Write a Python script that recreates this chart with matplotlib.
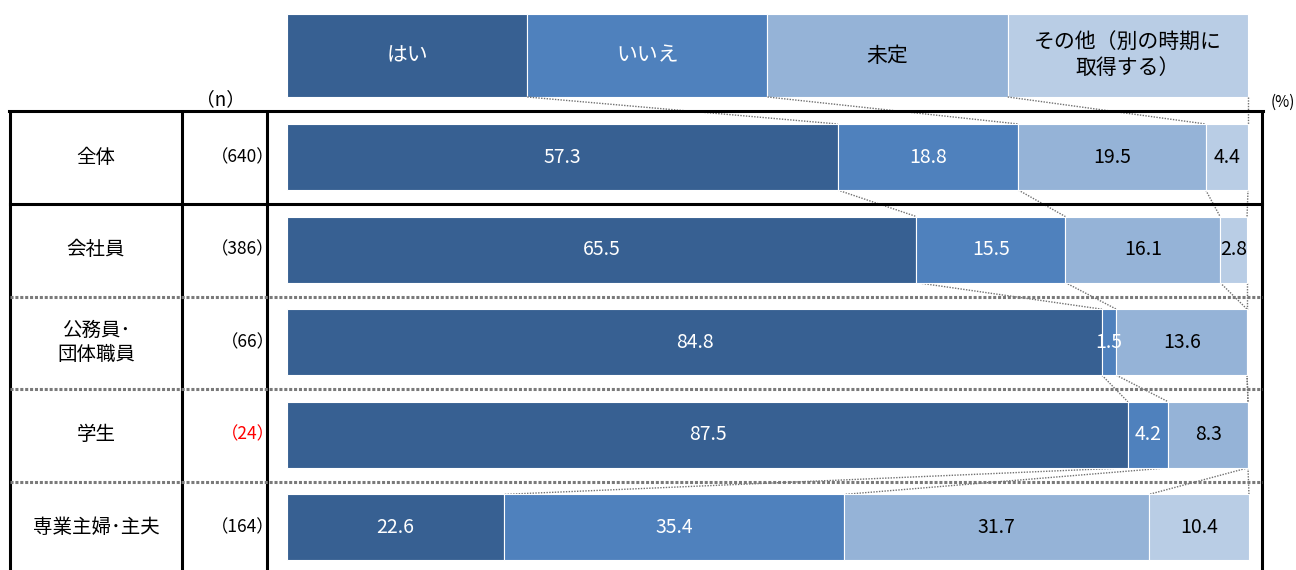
import numpy as np
import matplotlib
matplotlib.use('Agg')
import matplotlib.pyplot as plt

plt.rcParams['font.family'] = ['Noto Sans CJK JP', 'DejaVu Sans']

# データ
categories = ['全体', '会社員', '公務員･\n団体職員', '学生', '専業主婦･主夫']
n_values = [640, 386, 66, 24, 164]
series_names = ['はい', 'いいえ', '未定', 'その他（別の時期に\n取得する）']
yes = [57.3, 65.5, 84.8, 87.5, 22.6]
no = [18.8, 15.5, 1.5, 4.2, 35.4]
undecided = [19.5, 16.1, 13.6, 8.3, 31.7]
other = [4.4, 2.8, 0.0, 0.0, 10.4]

colors = ['#376092', '#4F81BD', '#95B3D7', '#B9CDE5']
text_colors = ['white', 'white', 'black', 'black']

data = np.array([yes, no, undecided, other])  # (4, 5)
cum = np.cumsum(data, axis=0)
lefts = cum - data
rows = np.arange(len(categories))

fig = plt.figure(figsize=(12.96, 5.70), dpi=100)
ax = fig.add_axes([0, 0, 1, 1])
ax.set_xlim(-29.865, 104.995)
ax.set_ylim(4.46, -1.6955)
ax.axis('off')

bar_h = 0.713
head_y = -1.096
head_h = 0.896

# ヘッダ（凡例）
head_w = 100 / len(series_names)
for i, name in enumerate(series_names):
    ax.barh(head_y, head_w, left=i * head_w, height=head_h, color=colors[i],
            edgecolor='white', linewidth=0.8)
    ax.text(i * head_w + head_w / 2, head_y, name, ha='center', va='center',
            fontsize=15, color=text_colors[i], linespacing=1.15)

# 帯グラフ
for k in range(len(series_names)):
    ax.barh(rows, data[k], left=lefts[k], height=bar_h, color=colors[k],
            edgecolor='white', linewidth=0.8, zorder=3)
    for r in rows:
        v = data[k][r]
        if v > 0:
            ax.text(lefts[k][r] + v / 2, r, '{:.1f}'.format(v), ha='center', va='center',
                    fontsize=14, color=text_colors[k], zorder=4)

# 区切り線（点線）
line_kw = dict(color='#707070', linestyle=(0, (1, 1)), linewidth=1.0, zorder=2)
head_bounds = (np.arange(len(series_names)) + 1) * head_w
for k in range(len(series_names)):
    ax.plot([head_bounds[k], cum[k][0]], [head_y + head_h / 2, -bar_h / 2], **line_kw)
for r in rows[:-1]:
    for k in range(len(series_names)):
        ax.plot([cum[k][r], cum[k][r + 1]], [r + bar_h / 2, r + 1 - bar_h / 2], **line_kw)

# 表の罫線
x_left, x_col1, x_col2, x_right = -28.82, -10.93, -2.08, 101.46
y_top = -0.497
y_bot = 4.6
for x in [x_left, x_col1, x_col2, x_right]:
    ax.plot([x, x], [y_top, y_bot], color='black', linewidth=2.2, zorder=5,
            solid_capstyle='butt')
ax.plot([x_left - 0.1, x_right + 0.1], [y_top, y_top], color='black', linewidth=2.2, zorder=5)
for r in rows[:-1]:
    y = r + 0.51
    if r == 0:
        ax.plot([x_left, x_right], [y, y], color='black', linewidth=2.2, zorder=5)
    else:
        ax.plot([x_left, x_right], [y, y], color='#7a7a7a', linestyle=(0, (1, 0.6)),
                linewidth=2.2, zorder=5)

# ラベル
for r in rows:
    ax.text((x_left + x_col1) / 2, r, categories[r], ha='center', va='center',
            fontsize=14, linespacing=1.2)
    ax.text(-1.3, r, '（{}）'.format(n_values[r]), ha='right', va='center', fontsize=12.5,
            color='red' if n_values[r] < 30 else 'black')

ax.text(-6.97, -0.616, '（n）', ha='center', va='center', fontsize=13.5)
ax.text(104.9, -0.594, '(%)', ha='right', va='center', fontsize=11)

fig.savefig('out.png', dpi=100)
